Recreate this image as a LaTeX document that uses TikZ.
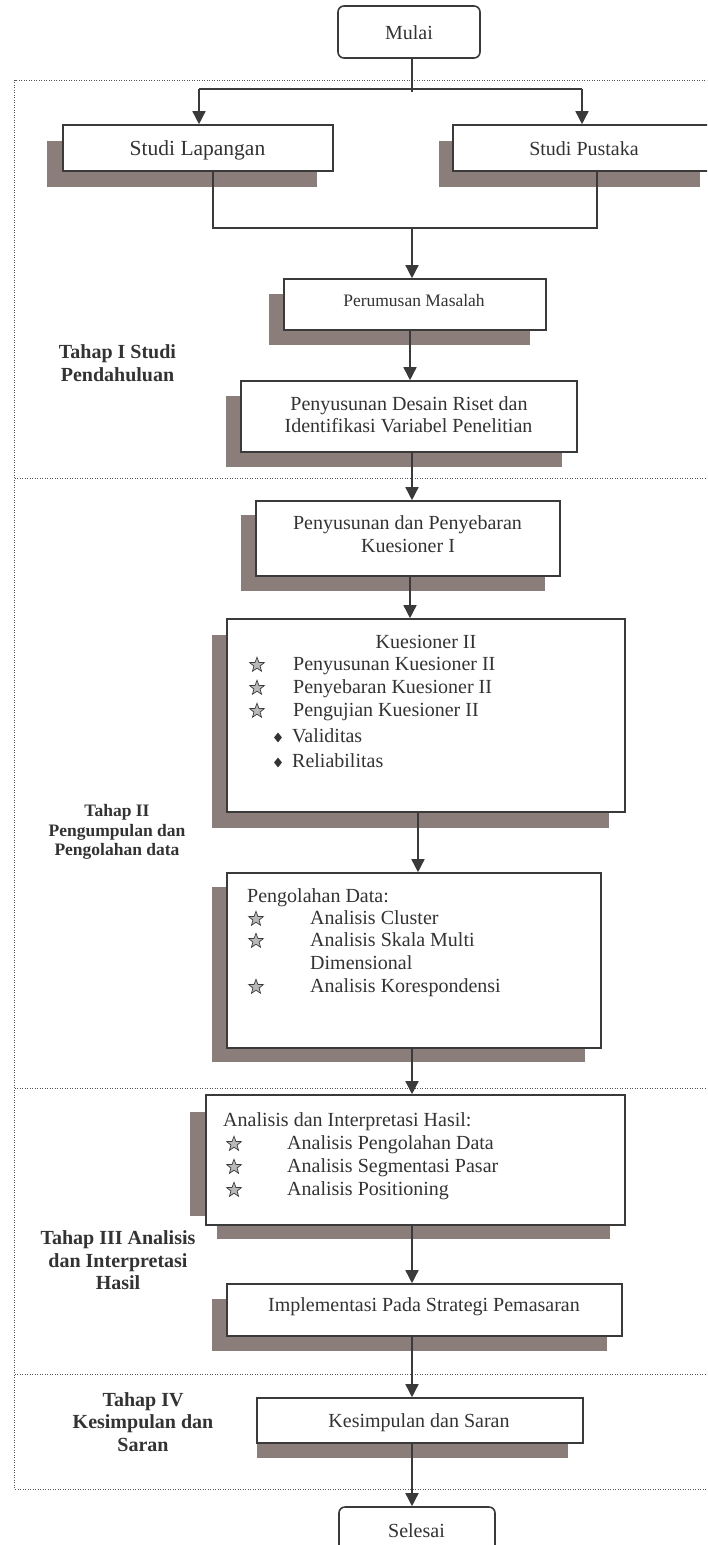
\documentclass[tikz,border=0pt]{standalone}
\usepackage{fontspec}
\setmainfont{Liberation Serif}
\usetikzlibrary{arrows.meta,shapes.geometric}
\definecolor{bordercol}{HTML}{3A3A3A}
\definecolor{textcol}{HTML}{333333}
\definecolor{shadowcol}{HTML}{8B7E7A}
\definecolor{framecol}{HTML}{555555}
\tikzset{
  box/.style={draw=bordercol, line width=1.6pt, fill=white, inner sep=0pt},
  rbox/.style={box, rounded corners=6pt},
  shad/.style={fill=shadowcol, draw=none},
  txt/.style={inner sep=0pt, anchor=base, text=textcol, font=\fontsize{20}{23}\selectfont},
  txtl/.style={txt, anchor=base west},
  btxt/.style={inner sep=0pt, anchor=base, text=textcol, font=\fontsize{21.5}{24}\selectfont},
  stxt/.style={inner sep=0pt, anchor=base, text=textcol, font=\fontsize{17.5}{20}\selectfont},
  lbl/.style={inner sep=0pt, anchor=base, text=textcol, font=\bfseries\fontsize{20}{23}\selectfont},
  slbl/.style={inner sep=0pt, anchor=base, text=textcol, font=\bfseries\fontsize{17.5}{20}\selectfont},
  conn/.style={draw=bordercol, line width=1.5pt},
  arr/.style={conn, -{Triangle[length=13pt,width=13pt]}},
  framel/.style={draw=framecol, line width=1pt, dash pattern=on 1pt off 1.5pt},
  starb/.style={star, star points=5, star point ratio=2.4, minimum size=15.5pt, inner sep=0pt, fill=gray!55, draw=bordercol, line width=0.7pt},
  diab/.style={diamond, fill=textcol, minimum width=8pt, minimum height=10pt, inner sep=0pt},
}
\begin{document}
\begin{tikzpicture}[x=1pt,y=-1pt]
\useasboundingbox (0,0) rectangle (707,1545);
\clip (0,0) rectangle (707,1545);
\fill[white] (0,0) rectangle (707,1545);

% frame
\draw[framel] (720,80) -- (14.5,80) -- (14.5,1489) -- (720,1489);
\draw[framel] (14.5,478) -- (720,478);
\draw[framel] (14.5,1088) -- (720,1088);
\draw[framel] (14.5,1374) -- (720,1374);

% shadows
\fill[shad] (47,141) rectangle (317,187);
\fill[shad] (439,141) rectangle (700,187);
\fill[shad] (269,294) rectangle (530,345);
\fill[shad] (226,396) rectangle (562,467);
\fill[shad] (241,515) rectangle (545,591);
\fill[shad] (212,635) rectangle (609,828);
\fill[shad] (212,887) rectangle (585,1062);
\fill[shad] (190,1112) rectangle (610,1216);
\fill[shad] (217,1200) rectangle (610,1239);
\fill[shad] (212,1299) rectangle (607,1351);
\fill[shad] (257,1413) rectangle (568,1458);

% boxes
\node[rbox, minimum width=142pt, minimum height=52pt] (mulai) at (409,32) {};
\node[box, minimum width=270pt, minimum height=46pt] (lap) at (198,148) {};
\node[box, minimum width=263pt, minimum height=46pt] (pus) at (584.5,148) {};
\node[box, minimum width=262pt, minimum height=51pt] (perum) at (415,304.5) {};
\node[box, minimum width=336pt, minimum height=71pt] (desain) at (409,416.5) {};
\node[box, minimum width=304pt, minimum height=75pt] (kuesa) at (408,538.5) {};
\node[box, minimum width=398pt, minimum height=193pt] (kuesb) at (426,715.5) {};
\node[box, minimum width=374pt, minimum height=175pt] (olah) at (414,960.5) {};
\node[box, minimum width=419pt, minimum height=130pt] (anal) at (415.5,1160) {};
\node[box, minimum width=395pt, minimum height=52pt] (impl) at (424.5,1310) {};
\node[box, minimum width=326pt, minimum height=45pt] (kesim) at (420,1420.5) {};
\node[rbox, minimum width=156pt, minimum height=53pt] (selesai) at (417,1533.5) {};

% box texts
\node[txt] (tmulai) at (409,39) {Mulai};
\node[btxt] (tlap) at (197.5,155.5) {Studi Lapangan};
\node[txt] (tpus) at (584,155) {Studi Pustaka};
\node[stxt] (tperum) at (414,306) {Perumusan Masalah};
\node[txt] (tdesa) at (409,410) {Penyusunan Desain Riset dan};
\node[txt] (tdesb) at (408.5,432) {Identifikasi Variabel Penelitian};
\node[txt] (tkuesa1) at (407.5,529) {Penyusunan dan Penyebaran};
\node[txt] (tkuesa2) at (408,552) {Kuesioner I};

\node[txt] (tkb0) at (426,648) {Kuesioner II};
\node[starb] (skb1) at (257,665) {};
\node[starb] (skb2) at (257,688) {};
\node[starb] (skb3) at (257,711) {};
\node[txtl] (tkb1) at (293,670) {Penyusunan Kuesioner II};
\node[txtl] (tkb2) at (293,693) {Penyebaran Kuesioner II};
\node[txtl] (tkb3) at (293,716) {Pengujian Kuesioner II};
\node[diab] (dkb1) at (278,737.5) {};
\node[diab] (dkb2) at (278,762.5) {};
\node[txtl] (tkb4) at (292,742) {Validitas};
\node[txtl] (tkb5) at (292,767) {Reliabilitas};

\node[txtl] (tol0) at (247,902) {Pengolahan Data:};
\node[starb] (sol1) at (256,919) {};
\node[starb] (sol2) at (256,941) {};
\node[starb] (sol3) at (256,987) {};
\node[txtl] (tol1) at (310,924) {Analisis Cluster};
\node[txtl] (tol2) at (310,946) {Analisis Skala Multi};
\node[txtl] (tol3) at (310,969) {Dimensional};
\node[txtl] (tol4) at (310,992) {Analisis Korespondensi};

\node[txtl] (tan0) at (223,1126) {Analisis dan Interpretasi Hasil:};
\node[starb] (san1) at (234,1144) {};
\node[starb] (san2) at (234,1167) {};
\node[starb] (san3) at (234,1190) {};
\node[txtl] (tan1) at (287,1149) {Analisis Pengolahan Data};
\node[txtl] (tan2) at (287,1172) {Analisis Segmentasi Pasar};
\node[txtl] (tan3) at (287,1195) {Analisis Positioning};

\node[txt] (timpl) at (424,1311) {Implementasi Pada Strategi Pemasaran};
\node[txt] (tkesim) at (419,1427) {Kesimpulan dan Saran};
\node[txt] (tselesai) at (416.5,1537) {Selesai};

% stage labels
\node[lbl] (l1a) at (117.5,358) {Tahap I Studi};
\node[lbl] (l1b) at (117.5,381) {Pendahuluan};
\node[slbl] (l2a) at (117,816) {Tahap II};
\node[slbl] (l2b) at (117,836) {Pengumpulan dan};
\node[slbl] (l2c) at (117,855) {Pengolahan data};
\node[lbl] (l3a) at (118,1244) {Tahap III Analisis};
\node[lbl] (l3b) at (118,1267) {dan Interpretasi};
\node[lbl] (l3c) at (118,1289) {Hasil};
\node[lbl] (l4a) at (143,1406) {Tahap IV};
\node[lbl] (l4b) at (143,1428) {Kesimpulan dan};
\node[lbl] (l4c) at (143,1451) {Saran};

% connectors
\coordinate (tr) at (412,0);
\coordinate (tr0) at (410,0);
\coordinate (tr2) at (418,0);
\coordinate (splitL) at (199,89);
\coordinate (splitR) at (582,89);
\coordinate (splitE) at (412,92);
\coordinate (mL) at (213,228);
\coordinate (mR) at (597,228);
\coordinate (mC) at (412,228);
\draw[conn] (mulai.south -| tr) -- (splitE);
\draw[conn] (splitL) -- (splitR);
\draw[arr] (splitL) -- (lap.north -| splitL);
\draw[arr] (splitR) -- (pus.north -| splitR);
\draw[conn] (lap.south -| mL) -- (mL) -- (mR) -- (pus.south -| mR);
\draw[arr] (mC) -- (perum.north -| mC);
\draw[arr] (perum.south -| tr0) -- (desain.north -| tr0);
\draw[arr] (desain.south -| tr) -- (kuesa.north -| tr);
\draw[arr] (kuesa.south -| tr0) -- (kuesb.north -| tr0);
\draw[arr] (kuesb.south -| tr2) -- (olah.north -| tr2);
\draw[arr] (olah.south -| tr) -- (anal.north -| tr);
\draw[arr] (anal.south -| tr) -- (impl.north -| tr);
\draw[arr] (impl.south -| tr) -- (kesim.north -| tr);
\draw[arr] (kesim.south -| tr) -- (selesai.north -| tr);
\end{tikzpicture}
\end{document}
